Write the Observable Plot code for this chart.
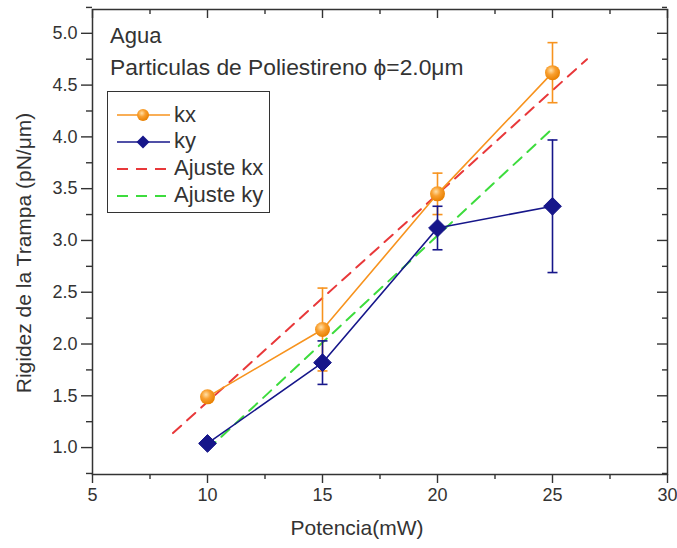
<!DOCTYPE html>
<html><head><meta charset="utf-8">
<script src="https://cdn.jsdelivr.net/npm/d3@7"></script>
<script src="https://cdn.jsdelivr.net/npm/@observablehq/plot@0.6"></script>
<style>
body{margin:0;background:#fff;}
#wrap{position:relative;width:677px;height:548px;font-family:"Liberation Sans",Arial,sans-serif;color:#333}
#wrap > svg{font-family:"Liberation Sans",Arial,sans-serif;font-size:18px}
.lab{position:absolute;white-space:nowrap;line-height:1}
#legend{position:absolute;left:107px;top:91px;width:161px;height:120px;border:1.5px solid #333;background:#fff}
#legend svg{position:absolute;left:9px}
#legend span{position:absolute;left:66px;font-size:22px;line-height:1;white-space:nowrap}
</style></head><body><div id="wrap"></div>
<script>
// data
const potencia = [10, 15, 20, 25];
const kx = [1.49, 2.14, 3.45, 4.62];
const kxErr = [0.03, 0.40, 0.20, 0.29];
const ky = [1.04, 1.82, 3.12, 3.33];
const kyErr = [0.02, 0.21, 0.21, 0.64];
const ajusteKxX = [8.5, 26.5];
const ajusteKxY = [1.14, 4.75];
const ajusteKyX = [10, 25];
const ajusteKyY = [0.98, 4.08];
const xTicks = [5, 10, 15, 20, 25, 30];
const xMinor = [7.5, 12.5, 17.5, 22.5, 27.5];
const yTicks = [1.0, 1.5, 2.0, 2.5, 3.0, 3.5, 4.0, 4.5, 5.0];
const yMinor = [0.75, 1.25, 1.75, 2.25, 2.75, 3.25, 3.75, 4.25, 4.75, 5.25];
const seriesNames = ["kx", "ky", "Ajuste kx", "Ajuste ky"];

const cOrange = "#f7931e", cNavy = "#16168a", cRed = "#e8383a", cGreen = "#3ddc3d", ink = "#333";

const kxData = potencia.map((x, i) => ({x, y: kx[i], e: kxErr[i]}));
const kyData = potencia.map((x, i) => ({x, y: ky[i], e: kyErr[i]}));
const fitKx = ajusteKxX.map((x, i) => ({x, y: ajusteKxY[i]}));
const fitKy = ajusteKyX.map((x, i) => ({x, y: ajusteKyY[i]}));

const W = 677, H = 548, mL = 92, mR = 10, mT = 9, mB = 74;
const fw = W - mL - mR, fh = H - mT - mB;   // frame size in px
const cap = {draw(ctx) { ctx.moveTo(-5, 0); ctx.lineTo(5, 0); }};
const tk = {stroke: ink, strokeWidth: 1.4};

const chart = Plot.plot({
  width: W, height: H,
  marginLeft: mL, marginRight: mR, marginTop: mT, marginBottom: mB,
  x: {domain: [5, 30], label: null},
  y: {domain: [0.74, 5.23], label: null},
  marks: [
    Plot.line(fitKx, {x: "x", y: "y", stroke: cRed, strokeWidth: 2, strokeDasharray: "11,8"}),
    Plot.line(fitKy, {x: "x", y: "y", stroke: cGreen, strokeWidth: 2, strokeDasharray: "11,8"}),
    Plot.ruleX(kxData, {x: "x", y1: d => d.y - d.e, y2: d => d.y + d.e, stroke: cOrange, strokeWidth: 1.6}),
    Plot.dot(kxData, {x: "x", y: d => d.y - d.e, symbol: cap, stroke: cOrange, strokeWidth: 1.6, fill: "none"}),
    Plot.dot(kxData, {x: "x", y: d => d.y + d.e, symbol: cap, stroke: cOrange, strokeWidth: 1.6, fill: "none"}),
    Plot.line(kxData, {x: "x", y: "y", stroke: cOrange, strokeWidth: 1.6}),
    Plot.ruleX(kyData, {x: "x", y1: d => d.y - d.e, y2: d => d.y + d.e, stroke: cNavy, strokeWidth: 1.6}),
    Plot.dot(kyData, {x: "x", y: d => d.y - d.e, symbol: cap, stroke: cNavy, strokeWidth: 1.6, fill: "none"}),
    Plot.dot(kyData, {x: "x", y: d => d.y + d.e, symbol: cap, stroke: cNavy, strokeWidth: 1.6, fill: "none"}),
    Plot.line(kyData, {x: "x", y: "y", stroke: cNavy, strokeWidth: 1.6}),
    Plot.dot(kyData, {x: "x", y: "y", symbol: "diamond2", r: 8, fill: cNavy, stroke: cNavy, strokeWidth: 1}),
    Plot.dot(kxData, {x: "x", y: "y", r: 7.5, fill: "url(#orb)", stroke: "none"}),
    // tick labels
    Plot.axisX(xTicks, {anchor: "bottom", tickSize: 0, tickPadding: 14, tickFormat: d => String(d), fill: ink}),
    Plot.axisY(yTicks, {anchor: "left", tickSize: 0, tickPadding: 15, tickFormat: d => d.toFixed(1), fill: ink}),
    // tick marks as short rules: outward bottom/left, inward top/right
    Plot.ruleX(xTicks, {x: d => d, insetTop: fh, insetBottom: -9, ...tk}),
    Plot.ruleX(xMinor, {x: d => d, insetTop: fh, insetBottom: -5, ...tk}),
    Plot.ruleX(xTicks, {x: d => d, insetBottom: fh - 9, ...tk}),
    Plot.ruleX(xMinor, {x: d => d, insetBottom: fh - 5, ...tk}),
    Plot.ruleY(yTicks, {y: d => d, insetLeft: -11, insetRight: fw, ...tk}),
    Plot.ruleY(yMinor, {y: d => d, insetLeft: -6, insetRight: fw, ...tk}),
    Plot.ruleY(yTicks, {y: d => d, insetLeft: fw - 10, ...tk}),
    Plot.ruleY(yMinor, {y: d => d, insetLeft: fw - 5, ...tk}),
    Plot.frame({stroke: ink, strokeWidth: 1.5})
  ]
});

const wrap = document.getElementById("wrap");
wrap.appendChild(chart);

// gradient for the orange spheres
const gsvg = document.createElementNS("http://www.w3.org/2000/svg", "svg");
gsvg.setAttribute("width", 0); gsvg.setAttribute("height", 0);
gsvg.style.position = "absolute";
gsvg.innerHTML = `<defs><radialGradient id="orb" cx="40%" cy="35%" r="65%"><stop offset="0%" stop-color="#ffe0a8"/><stop offset="45%" stop-color="#f9a030"/><stop offset="100%" stop-color="#e88000"/></radialGradient></defs>`;
document.body.appendChild(gsvg);

function addLab(text, css) {
  const d = document.createElement("div");
  d.className = "lab"; d.textContent = text;
  Object.assign(d.style, css);
  wrap.appendChild(d);
  return d;
}
addLab("Agua", {left: "110px", top: "25px", fontSize: "22px"});
addLab("Particulas de Poliestireno \u03d5=2.0\u03bcm", {left: "110px", top: "56px", fontSize: "22.8px"});
addLab("Potencia(mW)", {left: "357px", top: "517px", fontSize: "21px", transform: "translateX(-50%)"});
addLab("Rigidez de la Trampa (pN/\u03bcm)", {left: "23px", top: "253px", fontSize: "21px", transform: "translate(-50%,-50%) rotate(-90deg)"});

const legendStyle = [
  {color: cOrange, dash: null, marker: "circle"},
  {color: cNavy, dash: null, marker: "diamond"},
  {color: cRed, dash: "11,8", marker: null},
  {color: cGreen, dash: "11,8", marker: null}
];
const lg = document.createElement("div"); lg.id = "legend"; wrap.appendChild(lg);
seriesNames.forEach((name, i) => {
  const st = legendStyle[i];
  const cy = 23 + i * 26.9;
  let m = "";
  if (st.marker === "circle") m = `<circle cx="26" cy="8" r="6" fill="url(#orb)"/>`;
  if (st.marker === "diamond") m = `<path d="M26,1.5 L32.5,8 L26,14.5 L19.5,8Z" fill="${st.color}"/>`;
  const svg = document.createElementNS("http://www.w3.org/2000/svg", "svg");
  svg.setAttribute("width", 54); svg.setAttribute("height", 16);
  svg.style.top = (cy - 8) + "px";
  svg.innerHTML = `<line x1="0" y1="8" x2="53" y2="8" stroke="${st.color}" stroke-width="${st.dash ? 2 : 1.6}" ${st.dash ? `stroke-dasharray="${st.dash}"` : ""}/>${m}`;
  lg.appendChild(svg);
  const sp = document.createElement("span");
  sp.textContent = name;
  sp.style.top = (cy - 11.5) + "px";
  lg.appendChild(sp);
});
</script></body></html>
